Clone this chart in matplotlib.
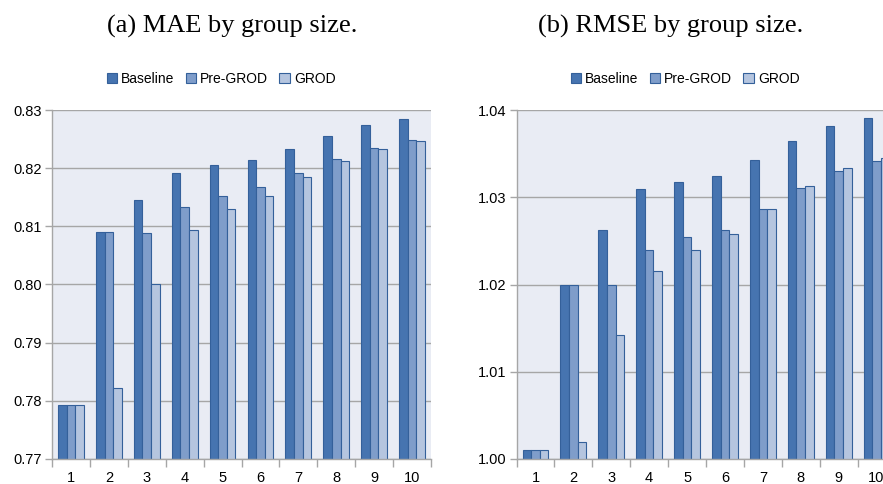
import numpy as np
import matplotlib
matplotlib.use('Agg')
import matplotlib.pyplot as plt

groups = ['1', '2', '3', '4', '5', '6', '7', '8', '9', '10']
series = ['Baseline', 'Pre-GROD', 'GROD']

mae_baseline = [0.7792, 0.8090, 0.8146, 0.8192, 0.8206, 0.8214, 0.8233, 0.8255, 0.8274, 0.8285]
mae_pregrod = [0.7792, 0.8090, 0.8089, 0.8134, 0.8153, 0.8167, 0.8191, 0.8215, 0.8235, 0.8248]
mae_grod = [0.7792, 0.7822, 0.8000, 0.8093, 0.8129, 0.8153, 0.8184, 0.8212, 0.8233, 0.8247]

rmse_baseline = [1.0010, 1.0200, 1.0262, 1.0309, 1.0317, 1.0324, 1.0343, 1.0364, 1.0382, 1.0391]
rmse_pregrod = [1.0010, 1.0200, 1.0200, 1.0240, 1.0254, 1.0263, 1.0287, 1.0311, 1.0330, 1.0341]
rmse_grod = [1.0010, 1.0019, 1.0142, 1.0216, 1.0239, 1.0258, 1.0287, 1.0313, 1.0333, 1.0345]

colors = ['#4674b0', '#7f9dca', '#b5c5df']
edge = '#34609a'
bg = '#e9ecf4'
grid = '#a6a6a6'

plt.rcParams['font.family'] = ['Liberation Sans', 'DejaVu Sans']

fig = plt.figure(figsize=(8.83, 4.84), dpi=100)
W, H = 883, 484


def draw(rect, data, ylim, yticks, yfmt, legend_x):
    ax = fig.add_axes([rect[0] / W, 1 - (rect[1] + rect[3]) / H, rect[2] / W, rect[3] / H])
    ax.set_facecolor(bg)
    x = np.arange(len(groups))
    w = 0.227
    for i, (vals, name) in enumerate(zip(data, series)):
        ax.bar(x + (i - 1) * w, vals, width=w, color=colors[i], edgecolor=edge,
               linewidth=0.8, label=name, zorder=3)
    ax.set_xlim(-0.5, len(groups) - 0.5)
    ax.set_ylim(*ylim)
    ax.set_yticks(yticks)
    ax.set_yticklabels([yfmt.format(t) for t in yticks])
    ax.set_xticks(x)
    ax.set_xticklabels(groups)
    ax.set_xticks(np.arange(len(groups) + 1) - 0.5, minor=True)
    ax.tick_params(axis='x', which='major', length=0, pad=9, labelsize=10.5)
    ax.tick_params(axis='x', which='minor', length=6, color=grid, width=1)
    ax.tick_params(axis='y', length=5, color=grid, width=1, pad=2, labelsize=10.5)
    ax.yaxis.grid(True, color=grid, linewidth=1, zorder=0)
    for s in ['top', 'right']:
        ax.spines[s].set_visible(False)
    for s in ['left', 'bottom']:
        ax.spines[s].set_color(grid)
        ax.spines[s].set_linewidth(1)
        ax.spines[s].set_zorder(4)
    fig.legend(*ax.get_legend_handles_labels(), loc='center',
               bbox_to_anchor=(legend_x / W, 1 - 79 / H), ncol=3, frameon=False,
               fontsize=10, handlelength=0.75, handleheight=0.75,
               handletextpad=0.3, columnspacing=0.8, borderaxespad=0)
    return ax


draw((52, 110, 379, 349), [mae_baseline, mae_pregrod, mae_grod],
     (0.77, 0.83), [0.77, 0.78, 0.79, 0.80, 0.81, 0.82, 0.83], '{:.2f}', 221)
draw((516.5, 110, 379, 349), [rmse_baseline, rmse_pregrod, rmse_grod],
     (1.00, 1.04), [1.00, 1.01, 1.02, 1.03, 1.04], '{:.2f}', 685)

fig.text(232 / W, 1 - 26 / H, '(a) MAE by group size.', ha='center', va='center',
         family='Liberation Serif', fontsize=19)
fig.text(671 / W, 1 - 26 / H, '(b) RMSE by group size.', ha='center', va='center',
         family='Liberation Serif', fontsize=19)

fig.savefig('out.png', dpi=100)
